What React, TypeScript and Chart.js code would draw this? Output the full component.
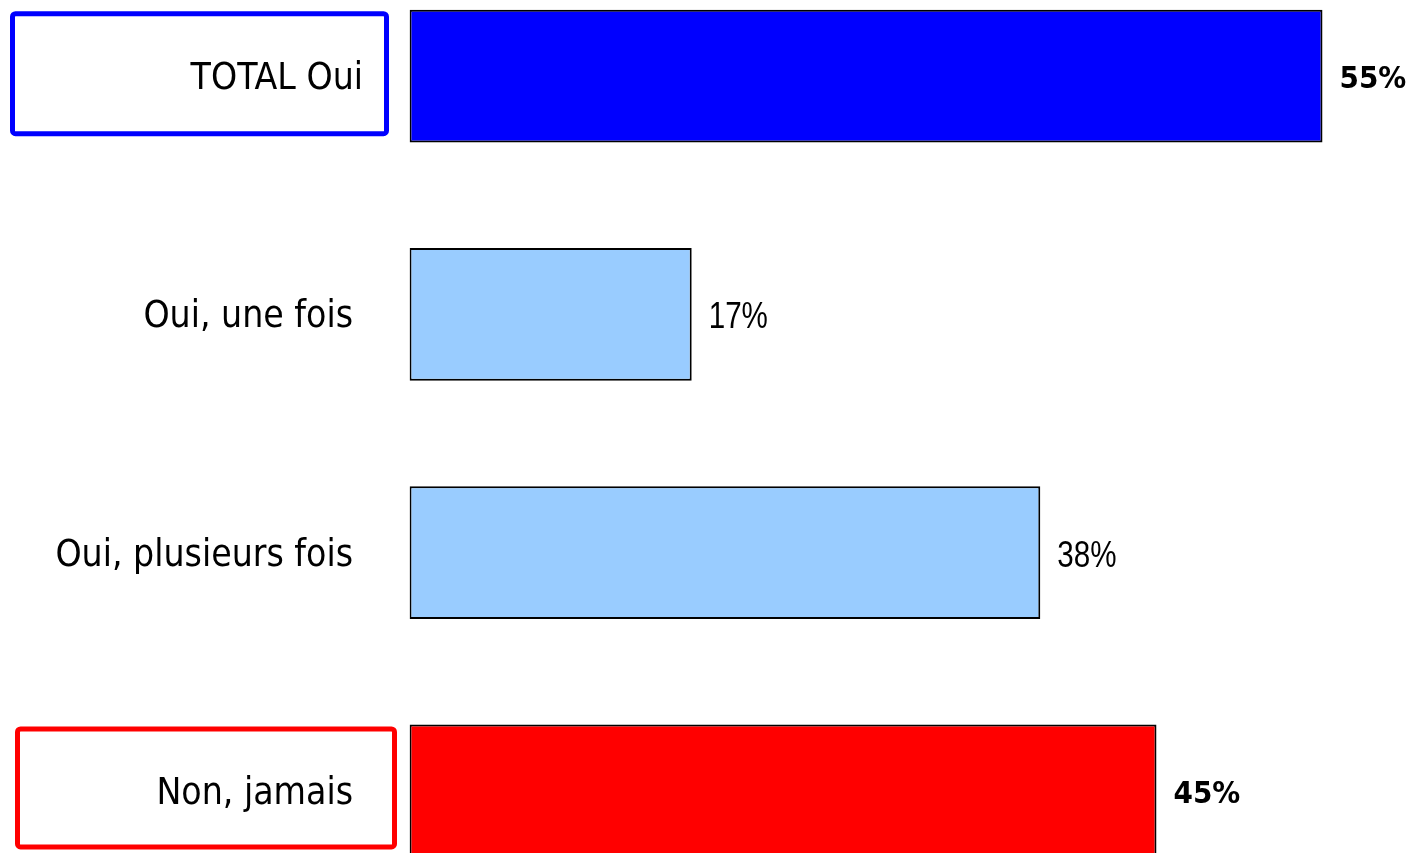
import React, { useEffect, useRef } from "react";
import { Chart, registerables } from "chart.js";

Chart.register(...registerables);

const categories = ["TOTAL Oui", "Oui, une fois", "Oui, plusieurs fois", "Non, jamais"];
const values = [55, 17, 38, 45];
const valueLabels = ["55%", "17%", "38%", "45%"];
const barColors = ["#0000FF", "#99CCFF", "#99CCFF", "#FF0000"];
const emphasised = [true, false, false, true];
const boxColors = ["#0000FF", null, null, "#FF0000"];

const labelPlugin = {
  id: "customLabels",
  afterDatasetsDraw(chart: any) {
    const ctx = chart.ctx;
    const xs = chart.scales.x;
    const ys = chart.scales.y;
    ctx.save();
    categories.forEach((cat, i) => {
      const cy = ys.getPixelForValue(i);
      // category box
      const bc = boxColors[i];
      if (bc) {
        const left = i === 0 ? 12.5 : 17.5;
        const right = i === 0 ? 386.5 : 394.5;
        const top = cy - (i === 0 ? 62.5 : 62);
        const bottom = cy + (i === 0 ? 57.5 : 56);
        ctx.strokeStyle = bc;
        ctx.lineWidth = 5;
        ctx.beginPath();
        if ((ctx as any).roundRect) {
          (ctx as any).roundRect(left, top, right - left, bottom - top, 3);
        } else {
          ctx.rect(left, top, right - left, bottom - top);
        }
        ctx.stroke();
      }
      // category label
      ctx.fillStyle = "#000";
      ctx.font = '37px "DejaVu Sans Condensed", "DejaVu Sans", sans-serif';
      ctx.textAlign = "right";
      ctx.textBaseline = "alphabetic";
      const lx = i === 0 ? 363 : 353;
      ctx.fillText(cat, lx, cy + 13);
      // value label
      const vx = xs.getPixelForValue(values[i]) + 17;
      ctx.textAlign = "left";
      if (emphasised[i]) {
        ctx.font = 'bold 31px "DejaVu Sans Condensed", "DejaVu Sans", sans-serif';
        ctx.fillText(valueLabels[i], vx, cy + 12);
      } else {
        ctx.save();
        ctx.translate(vx, cy + 14);
        ctx.scale(0.8, 1);
        ctx.font = '37px "Liberation Sans", Arial, sans-serif';
        ctx.fillText(valueLabels[i], 0, 0);
        ctx.restore();
      }
    });
    ctx.restore();
  },
};

export default function App() {
  const ref = useRef<HTMLCanvasElement | null>(null);
  useEffect(() => {
    document.body.style.margin = "0";
    document.body.style.overflow = "hidden";
    const chart = new Chart(ref.current as HTMLCanvasElement, {
      type: "bar",
      data: {
        labels: categories,
        datasets: [
          {
            data: values,
            backgroundColor: barColors,
            borderColor: "#000000",
            borderWidth: 2,
            borderSkipped: false,
            barPercentage: 1,
            categoryPercentage: 0.558,
          },
        ],
      },
      options: {
        indexAxis: "y",
        responsive: false,
        animation: false,
        layout: { padding: { left: 409.5, right: 8.5, top: 0, bottom: 0 } },
        plugins: { legend: { display: false }, tooltip: { enabled: false } },
        scales: {
          x: { display: false, min: 0, max: 60 },
          y: { display: false },
        },
      },
      plugins: [labelPlugin],
    });
    return () => chart.destroy();
  }, []);
  return (
    <div style={{ position: "fixed", left: 0, top: 0, width: 1414, height: 853, overflow: "hidden", background: "#fff" }}>
      <div style={{ position: "absolute", left: 0, top: -43, width: 1414, height: 953 }}>
        <canvas ref={ref} width={1414} height={953} style={{ display: "block" }} />
      </div>
    </div>
  );
}
